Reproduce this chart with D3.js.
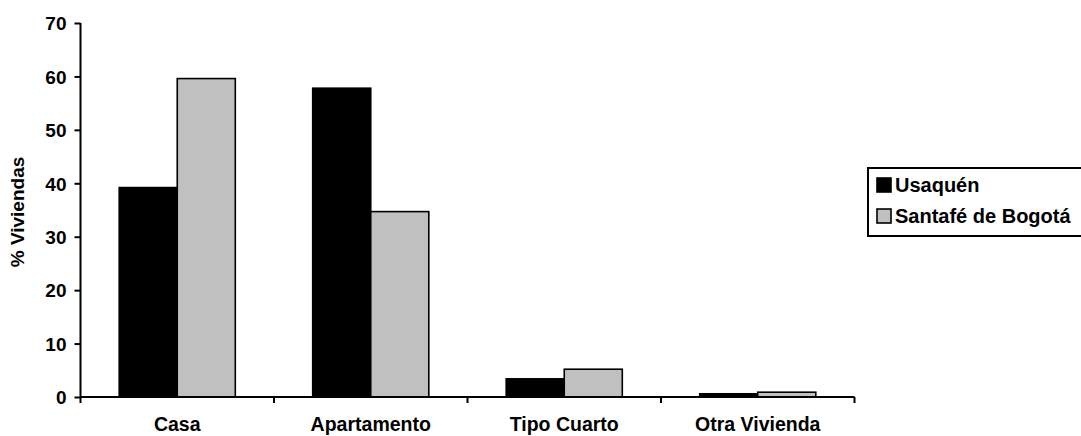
<!DOCTYPE html>
<html>
<head>
<meta charset="utf-8">
<script src="https://cdn.jsdelivr.net/npm/d3@7/dist/d3.min.js"></script>
<style>
  html, body { margin: 0; padding: 0; background: #fff; }
  svg { display: block; }
  text { font-family: "Liberation Sans", Arial, sans-serif; font-weight: bold; fill: #000; }
</style>
</head>
<body>
<svg id="chart" width="1081" height="436"></svg>
<script>
// Tipo de vivienda: porcentaje de viviendas por tipo
const categories = ["Casa", "Apartamento", "Tipo Cuarto", "Otra Vivienda"];
const seriesNames = ["Usaquén", "Santafé de Bogotá"];
const usaquen = [39.2, 57.8, 3.4, 0.6];
const bogota = [59.6, 34.7, 5.2, 0.9];
const yTicks = [0, 10, 20, 30, 40, 50, 60, 70];
const seriesColors = ["#000000", "#c0c0c0"];

const svg = d3.select("#chart");
const plot = { left: 80.5, right: 854.5, top: 23, bottom: 397 };

// one band per category; tick marks sit on the band boundaries
const xOuter = d3.scaleBand().domain(categories).range([plot.left, plot.right]);
const barW = xOuter.bandwidth() * 0.3;
const y = d3.scaleLinear().domain([0, 70]).range([plot.bottom, plot.top]);

const rows = categories.map((c, i) => ({ cat: c, values: [usaquen[i], bogota[i]] }));

// bars
const groups = svg.append("g").selectAll("g").data(rows).join("g")
  .attr("transform", d => `translate(${xOuter(d.cat) + (xOuter.bandwidth() - 2 * barW) / 2},0)`);
groups.selectAll("rect").data(d => d.values.map((v, k) => ({ v, k })))
  .join("rect")
  .attr("x", d => d.k * barW)
  .attr("width", barW)
  .attr("y", d => y(d.v))
  .attr("height", d => y(0) - y(d.v))
  .attr("fill", d => seriesColors[d.k])
  .attr("stroke", "#000")
  .attr("stroke-width", 1.6);

// y axis
const yAxis = d3.axisLeft(y).tickValues(yTicks).tickSize(6).tickPadding(8).tickSizeOuter(0);
const gy = svg.append("g").attr("transform", `translate(${plot.left},0)`).call(yAxis);
gy.select(".domain").remove();
gy.append("line").attr("x1", 0).attr("x2", 0).attr("y1", plot.top).attr("y2", plot.bottom + 6)
  .attr("stroke", "#000").attr("stroke-width", 2);
gy.selectAll(".tick line").attr("stroke", "#000").attr("stroke-width", 2);
gy.selectAll(".tick text").style("font-size", "19px").attr("dy", "0.36em");

// x axis
svg.append("line").attr("x1", plot.left).attr("x2", plot.right).attr("y1", plot.bottom).attr("y2", plot.bottom)
  .attr("stroke", "#000").attr("stroke-width", 2);
const boundaries = categories.map(c => xOuter(c)).concat([plot.right]);
svg.append("g").selectAll("line").data(boundaries.slice(1)).join("line")
  .attr("x1", d => d).attr("x2", d => d)
  .attr("y1", plot.bottom).attr("y2", plot.bottom + 6)
  .attr("stroke", "#000").attr("stroke-width", 2);
svg.append("g").selectAll("text").data(categories).join("text")
  .attr("x", d => xOuter(d) + xOuter.bandwidth() / 2)
  .attr("y", 431)
  .attr("text-anchor", "middle")
  .style("font-size", "19.5px")
  .text(d => d);

// y axis title
svg.append("text")
  .attr("transform", "translate(24,212) rotate(-90)")
  .attr("text-anchor", "middle")
  .style("font-size", "19px")
  .text("% Viviendas");

// legend
const lg = svg.append("g");
lg.append("rect").attr("x", 868).attr("y", 168).attr("width", 220).attr("height", 68)
  .attr("fill", "#fff").attr("stroke", "#000").attr("stroke-width", 2);
const items = lg.selectAll("g.item").data(seriesNames).join("g").attr("class", "item")
  .attr("transform", (d, i) => `translate(877,${178 + i * 31})`);
items.append("rect").attr("width", 14).attr("height", 14)
  .attr("fill", (d, i) => seriesColors[i]).attr("stroke", "#000").attr("stroke-width", 1.6);
items.append("text").attr("x", 18).attr("y", 14).style("font-size", "20px").text(d => d);
</script>
</body>
</html>
